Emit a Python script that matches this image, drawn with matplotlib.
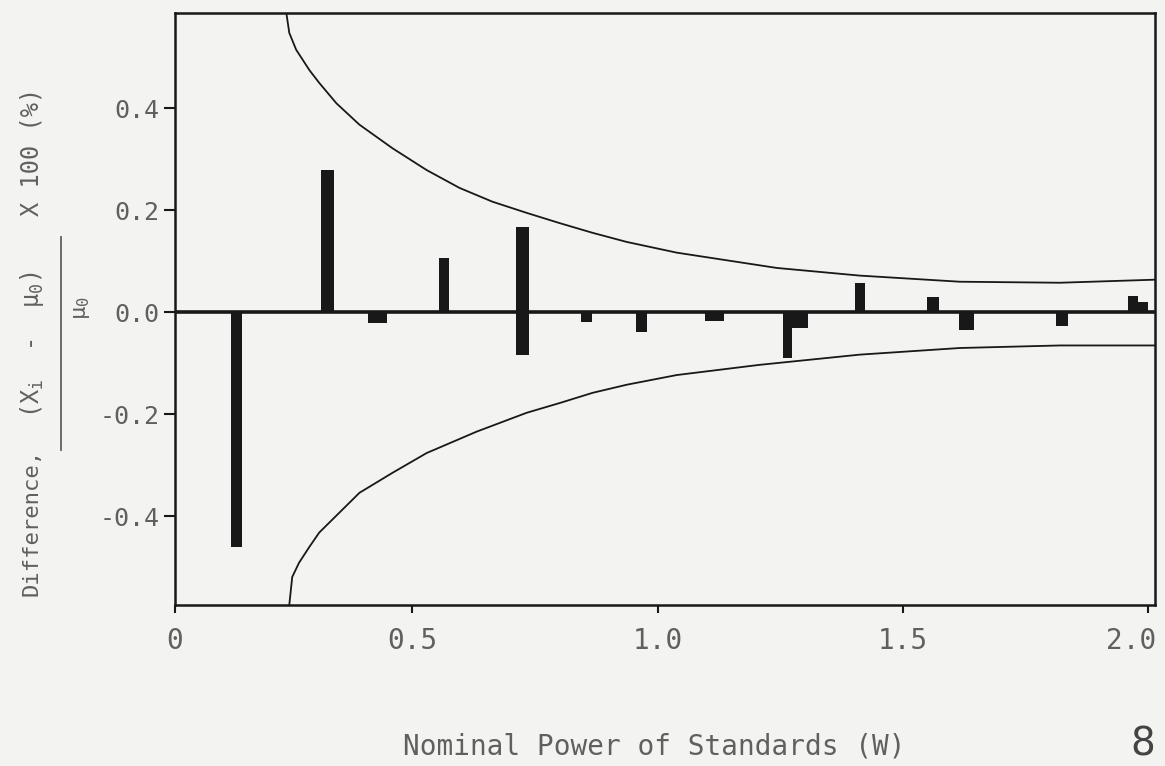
import matplotlib
matplotlib.use("Agg")
import matplotlib.pyplot as plt
from matplotlib.lines import Line2D
from matplotlib.transforms import ScaledTranslation

# nominal power of each standard (W) and its difference from mu_0 (%)
power = [0.141, 0.327, 0.429, 0.565, 0.724, 0.724, 0.855, 0.967,
         1.116, 1.265, 1.286, 1.412, 1.561, 1.629, 1.824, 1.969, 1.988]
diff = [-0.460, 0.280, -0.021, 0.107, 0.168, -0.083, -0.019, -0.038,
        -0.017, -0.089, -0.031, 0.057, 0.031, -0.034, -0.026, 0.032, 0.020]

# confidence limit curves
upper_x = [0.243, 0.249, 0.263, 0.290, 0.310, 0.345, 0.392, 0.459, 0.529, 0.596,
           0.663, 0.733, 0.800, 0.867, 0.937, 1.039, 1.243, 1.412, 1.616, 1.820, 2.014]
upper_y = [0.587, 0.548, 0.515, 0.475, 0.450, 0.410, 0.368, 0.322, 0.279, 0.244,
           0.217, 0.195, 0.175, 0.156, 0.138, 0.117, 0.087, 0.072, 0.060, 0.058, 0.064]
lower_x = [0.249, 0.255, 0.269, 0.290, 0.310, 0.392, 0.459, 0.529, 0.631, 0.733,
           0.800, 0.867, 0.937, 1.039, 1.208, 1.412, 1.616, 1.820, 2.014]
lower_y = [-0.574, -0.519, -0.491, -0.460, -0.432, -0.354, -0.315, -0.276, -0.234, -0.197,
           -0.178, -0.158, -0.142, -0.123, -0.103, -0.083, -0.070, -0.065, -0.065]

xtick_pos = [0.016, 0.5, 1.0, 1.5, 2.0]
xtick_labels = ["0", "0.5", "1.0", "1.5", "2.0"]
ytick_pos = [-0.4, -0.2, 0.0, 0.2, 0.4]
ytick_labels = ["-0.4", "-0.2", "0.0", "0.2", "0.4"]

BG = "#f3f3f1"
INK = "#181818"
TXT = "#606060"
MONO = "DejaVu Sans Mono"
W, H = 1165, 766

fig = plt.figure(figsize=(W / 100, H / 100), dpi=100, facecolor=BG)
ax = fig.add_axes([175 / W, 1 - 605 / H, (1155 - 175) / W, (605 - 13) / H])
ax.set_facecolor(BG)

# bar widths in data units (style only)
widths = [0.023, 0.027, 0.040, 0.021, 0.026, 0.026, 0.021, 0.024,
          0.040, 0.019, 0.040, 0.021, 0.025, 0.030, 0.025, 0.021, 0.025]
ax.bar(power, diff, width=widths, color=INK, linewidth=0, zorder=3)

ax.plot(upper_x, upper_y, color=INK, lw=1.3, zorder=2)
ax.plot(lower_x, lower_y, color=INK, lw=1.3, zorder=2)
ax.axhline(0, color=INK, lw=2.6, zorder=4)

ax.set_xlim(0.016, 2.014)
ax.set_ylim(-0.574, 0.587)

for s in ax.spines.values():
    s.set_color(INK)
    s.set_linewidth(1.8)

ax.set_xticks(xtick_pos)
ax.set_xticklabels(xtick_labels, fontfamily=MONO, fontsize=20, color=TXT)
ax.set_yticks(ytick_pos)
ax.set_yticklabels(ytick_labels, fontfamily=MONO, fontsize=18, color=TXT)
ax.tick_params(axis="x", direction="out", length=6, width=1.5, color=INK, pad=10)
ax.tick_params(axis="y", direction="out", length=8, width=1.5, color=INK, pad=3)

# last x label sits inside the right edge, as in the original
last = ax.get_xticklabels()[-1]
last.set_horizontalalignment("right")
last.set_transform(last.get_transform() + ScaledTranslation(0.08, 0, fig.dpi_scale_trans))

# x axis title
fig.text(654 / W, 1 - 747 / H, "Nominal Power of Standards (W)",
         fontfamily=MONO, fontsize=20, color=TXT, ha="center", va="center")

# y axis title, built from pieces so the fraction looks like the original
ykw = dict(fontfamily=MONO, color=TXT, rotation=90, ha="center", va="center")
fig.text(32 / W, 1 - 522 / H, "Difference,", fontsize=16, **ykw)
fig.text(32 / W, 1 - 345 / H,
         r"(X$_\mathregular{i}$  -  μ$_\mathregular{0}$)", fontsize=17, **ykw)
fig.add_artist(Line2D([61 / W, 61 / W], [1 - 450 / H, 1 - 237 / H],
                      transform=fig.transFigure, color=TXT, lw=1.3))
fig.text(82 / W, 1 - 308 / H, r"μ$_\mathregular{0}$", fontsize=16, **ykw)
fig.text(32 / W, 1 - 152 / H, "X 100 (%)", fontsize=17, **ykw)

# page number fragment at bottom right
fig.text(1143 / W, 1 - 744 / H, "8", fontsize=28, color="#444444",
         ha="center", va="center")

fig.savefig("out.png", dpi=100, facecolor=BG)
